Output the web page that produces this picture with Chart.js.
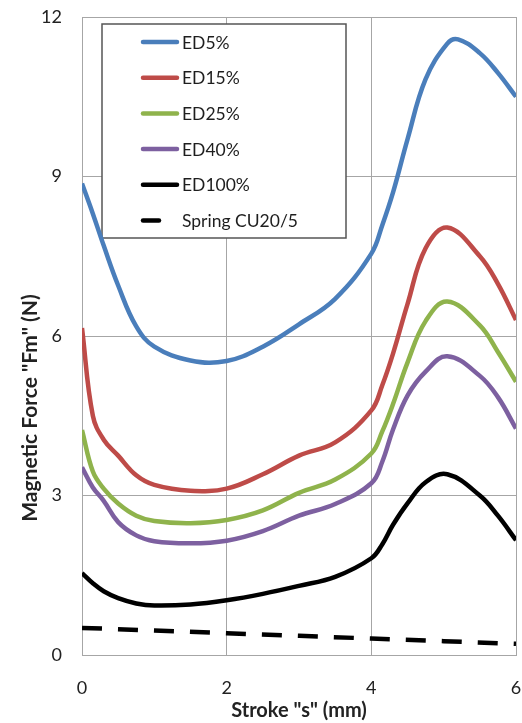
<!DOCTYPE html>
<html>
<head>
<meta charset="utf-8">
<script src="https://cdn.jsdelivr.net/npm/chart.js@4"></script>
<style>
  html, body { margin: 0; padding: 0; background: #fff; }
  #wrap { width: 522px; height: 723px; }
</style>
</head>
<body>
<div id="wrap"><canvas id="c"></canvas></div>
<script>
'use strict';

// stroke positions (mm) shared by the ED curves, null = no reading there
const stroke = [0, 0.15, 0.3, 0.5, 0.75, 1, 1.5, 2, 2.5, 3, 3.5, 4, 4.15, 4.3, 4.5, 4.75, 5.05, 5.2, 5.5, 5.75, 6];

const ed5   = [8.87, 8.3, 7.7, 6.95, 6.18, 5.8, 5.54, 5.53, 5.8, 6.22, 6.7, 7.55, 8.08, 8.7, 9.7, 10.83, 11.5, 11.58, 11.32, 10.95, 10.5];
const ed15  = [6.15, 4.5, 4.05, 3.75, 3.38, 3.2, 3.09, 3.13, 3.4, 3.75, 4.0, 4.6, 5.07, 5.67, 6.6, 7.65, 8.04, null, 7.5, 6.98, 6.3];
const ed25  = [4.23, 3.45, 3.13, 2.85, 2.62, 2.52, 2.48, 2.54, 2.72, 3.05, 3.3, 3.79, 4.2, 4.72, 5.5, 6.28, 6.65, null, 6.2, 5.7, 5.14];
const ed40  = [3.53, 3.15, 2.9, 2.5, 2.25, 2.14, 2.1, 2.15, 2.33, 2.62, 2.84, 3.23, 3.63, 4.24, 4.88, 5.33, 5.62, null, 5.25, 4.85, 4.26];
const ed100 = [1.54, 1.35, 1.2, 1.07, 0.97, 0.93, 0.95, 1.03, 1.15, 1.3, 1.47, 1.82, 2.08, 2.45, 2.85, 3.25, 3.4, null, 3.0, 2.62, 2.16];

const springStroke = [0, 1, 2, 3, 4, 5, 6];
const springForce  = [0.51, 0.46, 0.41, 0.36, 0.31, 0.26, 0.21];

const xTicks = [0, 2, 4, 6];
const yTicks = [0, 3, 6, 9, 12];

const yTitle = 'Magnetic Force "Fm" (N)';
const xTitle = 'Stroke "s" (mm)';

const FONT = 'Lato, "Open Sans", sans-serif';
const GRID = '#a6a6a6';

function pts(xs, ys) {
  return xs.map((x, i) => ({ x, y: ys[i] }));
}

function series(label, ys, color) {
  return {
    label,
    data: pts(stroke, ys),
    borderColor: color,
    backgroundColor: color,
    borderWidth: 4.5,
    pointRadius: 0,
    tension: 0.4,
    spanGaps: true,
  };
}

// legend box drawn inside the plot, over the grid but under the curves
const boxLegend = {
  id: 'boxLegend',
  beforeDatasetsDraw(chart) {
    const { ctx, chartArea } = chart;
    const x0 = chartArea.left + 20, y0 = chartArea.top + 7;
    const w = 244, h = 214;
    ctx.save();
    ctx.fillStyle = '#fff';
    ctx.fillRect(x0, y0, w, h);
    ctx.strokeStyle = '#555';
    ctx.lineWidth = 1.5;
    ctx.strokeRect(x0, y0, w, h);
    ctx.font = '17.5px ' + FONT;
    ctx.textBaseline = 'middle';
    chart.data.datasets.forEach((ds, i) => {
      const y = y0 + 18 + i * 35.7;
      ctx.strokeStyle = ds.borderColor;
      ctx.lineWidth = 4.5;
      ctx.lineCap = 'round';
      ctx.beginPath();
      ctx.moveTo(x0 + 41, y);
      ctx.lineTo(x0 + (ds.borderDash ? 57 : 75), y);
      ctx.stroke();
      ctx.fillStyle = '#1e1e1e';
      ctx.fillText(ds.label, x0 + 80, y + 1);
    });
    ctx.restore();
  },
  // y axis title sits below the middle of the axis in the original
  afterDraw(chart) {
    const { ctx, chartArea } = chart;
    ctx.save();
    ctx.translate(30, chartArea.bottom - 247);
    ctx.rotate(-Math.PI / 2);
    ctx.font = 'bold 21px ' + FONT;
    ctx.fillStyle = '#222';
    ctx.textAlign = 'center';
    ctx.textBaseline = 'middle';
    ctx.fillText(yTitle, 0, 0);
    ctx.restore();
  },
};

new Chart(document.getElementById('c'), {
  type: 'line',
  data: {
    datasets: [
      series('ED5%', ed5, '#4a7ebb'),
      series('ED15%', ed15, '#be4b48'),
      series('ED25%', ed25, '#8fb34c'),
      series('ED40%', ed40, '#7d60a0'),
      series('ED100%', ed100, '#000000'),
      {
        label: 'Spring CU20/5',
        data: pts(springStroke, springForce),
        borderColor: '#000000',
        backgroundColor: '#000000',
        borderWidth: 4.5,
        borderDash: [20, 16],
        pointRadius: 0,
        tension: 0,
      },
    ],
  },
  options: {
    responsive: true,
    maintainAspectRatio: false,
    animation: false,
    events: [],
    layout: { padding: { top: 17, right: 6, left: 0, bottom: 0 } },
    plugins: {
      legend: { display: false },
      tooltip: { enabled: false },
    },
    scales: {
      x: {
        type: 'linear',
        min: 0,
        max: 6,
        afterBuildTicks: (s) => { s.ticks = xTicks.map(v => ({ value: v })); },
        afterFit: (s) => { s.height = 68; s.paddingLeft = 0; s.paddingRight = 0; },
        ticks: {
          color: '#222',
          padding: 22,
          font: { size: 18, family: FONT },
        },
        grid: { color: GRID, lineWidth: 1, drawTicks: false },
        border: { color: GRID, width: 1 },
        title: {
          display: true,
          text: xTitle,
          color: '#222',
          font: { size: 20, weight: 'bold', family: FONT },
          padding: { top: 0, bottom: 0 },
        },
      },
      y: {
        min: 0,
        max: 12,
        afterBuildTicks: (s) => { s.ticks = yTicks.map(v => ({ value: v })); },
        afterFit: (s) => { s.width = 82; s.paddingTop = 0; s.paddingBottom = 0; },
        ticks: {
          color: '#222',
          padding: 20,
          font: { size: 18, family: FONT },
        },
        grid: { color: GRID, lineWidth: 1, drawTicks: false },
        border: { color: GRID, width: 1 },
      },
    },
  },
  plugins: [boxLegend],
});
</script>
</body>
</html>
